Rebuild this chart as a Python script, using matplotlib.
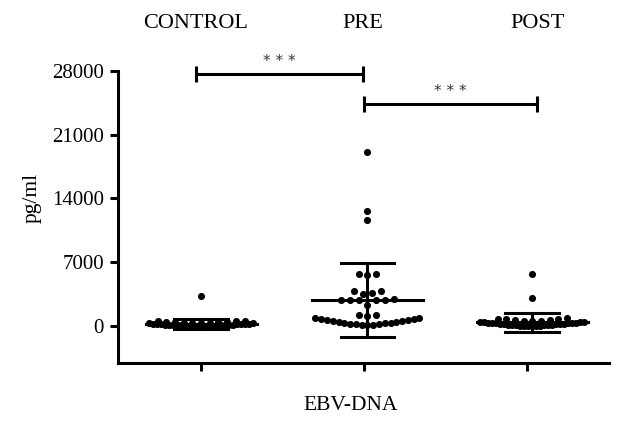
import matplotlib as mpl
mpl.use("Agg")
import matplotlib.pyplot as plt
import numpy as np

# values (pg/ml)
groups = ["CONTROL", "PRE", "POST"]
control = [3250, 590, 560, 520, 480, 450, 420, 400, 380, 360, 340, 320, 300, 280,
           260, 240, 225, 210, 195, 180, 165, 150, 140, 130, 120, 110, 100, 90, 80,
           70, 60, 55, 45, 40, 30, 25, 15, 10, 0]
pre = [19100, 12600, 11650, 5700, 5650, 5600, 3850, 3800, 3600, 3550, 2950, 2900,
       2880, 2850, 2820, 2800, 2250, 1250, 1200, 1150, 860, 830, 790, 740, 690,
       630, 570, 520, 470, 420, 370, 330, 290, 250, 210, 180, 150, 120, 100]
post = [5670, 3070, 840, 800, 760, 720, 680, 640, 600, 560, 520, 480, 450, 420,
        400, 380, 360, 340, 320, 300, 280, 260, 240, 220, 200, 180, 160, 140, 120,
        100, 80, 60, 50, 40, 30, 20, 10, 0]
means = [205, 2850, 400]
sds = [565, 4060, 1060]
yticks = [0, 7000, 14000, 21000, 28000]
# significance: (left group, right group, height, label)
sig = [(0, 1, 27640, "* * *"), (1, 2, 24350, "* * *")]

plt.rcParams["font.family"] = ["Liberation Serif", "DejaVu Serif"]

W, H = 629, 426
fig = plt.figure(figsize=(W / 100, H / 100), dpi=100)
ax = fig.add_axes([118 / W, 63.3 / H, 491 / W, 292 / H])
ax.set_xlim(-0.509, 2.5)
ax.set_ylim(-4025, 28000)

centers = [0.0, 1.02, 2.03]


def dot_rows(ax, x0, values, row_px=8.0, step=8.7, width=104.0, max_per_row=27):
    """GraphPad-like scatter: bin by height, spread each bin sideways."""
    vals = np.sort(np.asarray(values, float))
    pix = ax.transData.transform(np.column_stack([np.full(len(vals), x0), vals]))
    xc, ys = pix[0, 0], pix[:, 1]
    rows, start = [], 0
    for i in range(1, len(ys) + 1):
        if i == len(ys) or ys[i] - ys[start] >= row_px:
            rows.append(list(range(start, i)))
            start = i
    xs = np.zeros(len(ys))
    for row in rows:
        chunks = [row[k:k + max_per_row] for k in range(0, len(row), max_per_row)]
        for ch in chunks:
            n = len(ch)
            sp = step if n < 2 else min(step, width / (n - 1))
            offs = (np.arange(n) - (n - 1) / 2) * sp
            offs = offs[np.argsort(np.abs(offs), kind="stable")]
            for j, idx in enumerate(ch):
                xs[idx] = offs[j]
    back = ax.transData.inverted().transform(np.column_stack([xc + xs, ys]))
    return back[:, 0], vals


lw = 2.2
for xi, vals, m, s in zip(centers, [control, pre, post], means, sds):
    xs, ys = dot_rows(ax, xi, vals)
    ax.scatter(xs, ys, s=26, color="black", zorder=3, linewidths=0)
    ax.plot([xi - 0.34, xi + 0.34], [m, m], color="black", lw=lw, zorder=4)
    ax.plot([xi, xi], [m - s, m + s], color="black", lw=lw, zorder=4)
    for v in (m - s, m + s):
        ax.plot([xi - 0.165, xi + 0.165], [v, v], color="black", lw=lw, zorder=4)

# significance brackets
ends = {(0, 1): (-0.03, 0.995), (1, 2): (1.0, 2.06)}
for a, b, h, lab in sig:
    x1, x2 = ends[(a, b)]
    ax.plot([x1, x2], [h, h], color="black", lw=lw, clip_on=False, solid_capstyle="butt")
    for xe in (x1, x2):
        ax.plot([xe, xe], [h - 900, h + 900], color="black", lw=lw, clip_on=False,
                solid_capstyle="butt")
    ax.text((x1 + x2) / 2, h + 500, lab, ha="center", va="bottom", fontsize=11,
            family=["DejaVu Sans"], color="#333333")

ax.set_xticks([0, 1, 2])
ax.set_xticklabels([])
ax.set_yticks(yticks)
ax.set_yticklabels([str(t) for t in yticks], fontsize=15)
ax.tick_params(axis="both", direction="out", length=6, width=lw, pad=4)
for side in ("top", "right"):
    ax.spines[side].set_visible(False)
for side in ("left", "bottom"):
    ax.spines[side].set_linewidth(lw)

for g, xp in zip(groups, [196, 363, 538]):
    fig.text(xp / W, 1 - 24 / H, g, ha="center", va="center", fontsize=16)
fig.text(32 / W, 1 - 198 / H, "pg/ml", rotation=90, ha="center", va="center", fontsize=15.5)
fig.text(351 / W, 1 - 406 / H, "EBV-DNA", ha="center", va="center", fontsize=15.5)

fig.savefig("out.png", dpi=100)
plt.close(fig)
